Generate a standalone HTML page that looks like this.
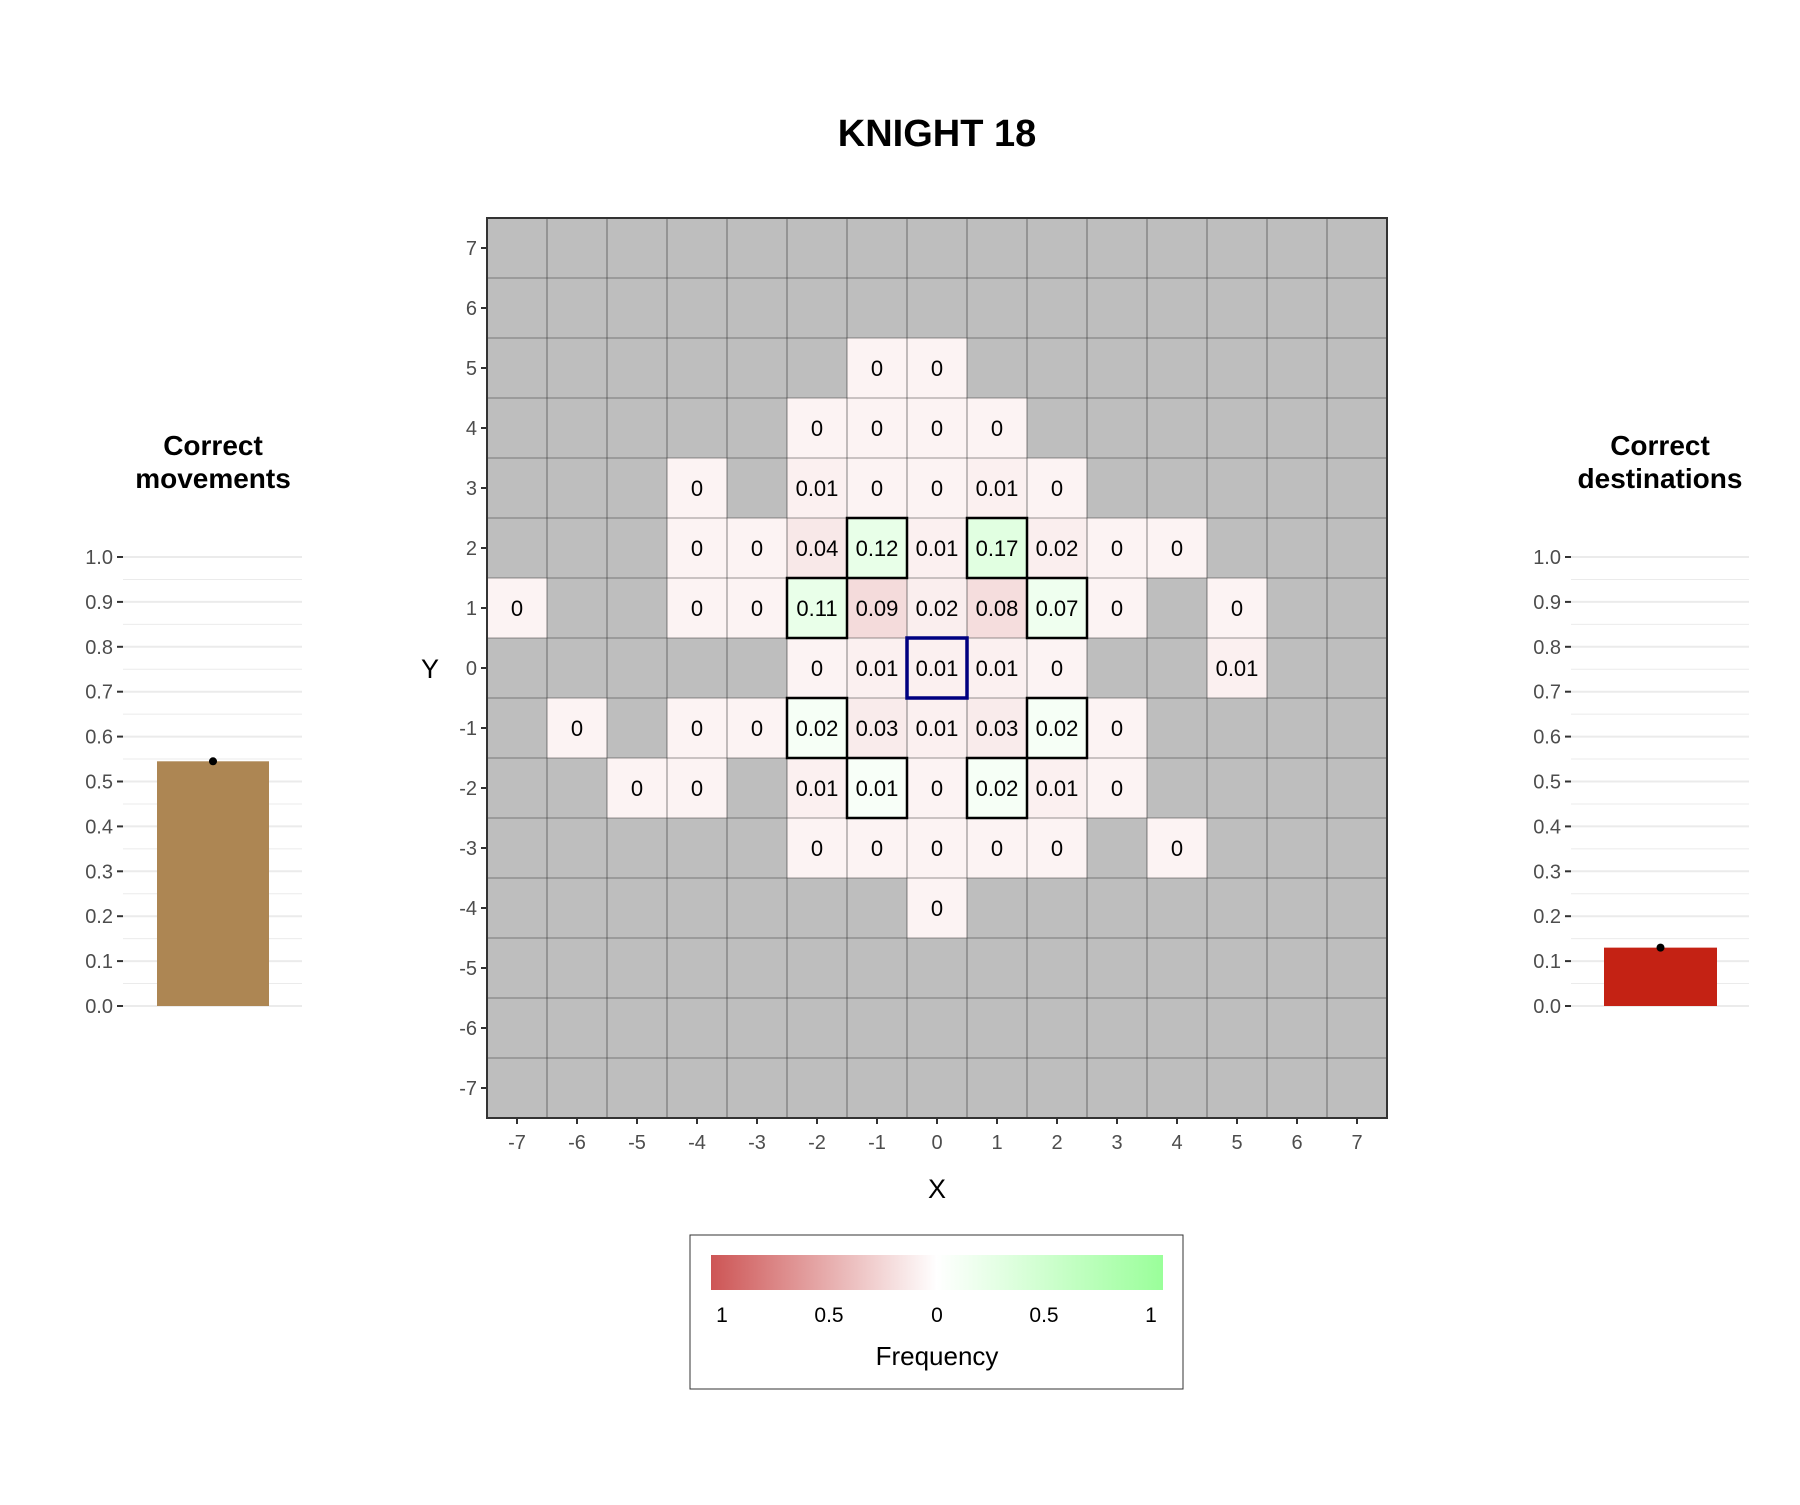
<!DOCTYPE html>
<html><head><meta charset="utf-8"><style>
body{margin:0;background:#fff;}
svg text{font-family:"Liberation Sans",sans-serif;}
</style></head><body>
<svg id="c" width="1800" height="1500" xmlns="http://www.w3.org/2000/svg">
<defs><linearGradient id="lg" x1="0" x2="1" y1="0" y2="0">
<stop offset="0" stop-color="#cd5555"/><stop offset="0.5" stop-color="#ffffff"/><stop offset="1" stop-color="#9aff9a"/></linearGradient></defs>
<text x="937" y="146" text-anchor="middle" font-size="38" font-weight="bold">KNIGHT 18</text>
<g id="heat"></g>
<g id="left"></g>
<g id="right"></g>
<g>
<rect x="690" y="1235" width="493" height="154" fill="#fff" stroke="#333" stroke-width="1"/>
<rect x="711" y="1255" width="452" height="35" fill="url(#lg)"/>
<text x="722" y="1322" font-size="21" text-anchor="middle">1</text>
<text x="829" y="1322" font-size="21" text-anchor="middle">0.5</text>
<text x="937" y="1322" font-size="21" text-anchor="middle">0</text>
<text x="1044" y="1322" font-size="21" text-anchor="middle">0.5</text>
<text x="1151" y="1322" font-size="21" text-anchor="middle">1</text>
<text x="937" y="1365" font-size="26" text-anchor="middle">Frequency</text>
</g>
</svg>
<script>
const NS="http://www.w3.org/2000/svg";
const cellX=[-1,0,-2,-1,0,1,-4,-2,-1,0,1,2,-4,-3,-2,-1,0,1,2,3,4,-7,-4,-3,-2,-1,0,1,2,3,5,-2,-1,0,1,2,5,-6,-4,-3,-2,-1,0,1,2,3,-5,-4,-2,-1,0,1,2,3,-2,-1,0,1,2,4,0];
const cellY=[5,5,4,4,4,4,3,3,3,3,3,3,2,2,2,2,2,2,2,2,2,1,1,1,1,1,1,1,1,1,1,0,0,0,0,0,0,-1,-1,-1,-1,-1,-1,-1,-1,-1,-2,-2,-2,-2,-2,-2,-2,-2,-3,-3,-3,-3,-3,-3,-4];
const cellV=[0,0,0,0,0,0,0,0.01,0,0,0.01,0,0,0,0.04,0.12,0.01,0.17,0.02,0,0,0,0,0,0.11,0.09,0.02,0.08,0.07,0,0,0,0.01,0.01,0.01,0,0.01,0,0,0,0.02,0.03,0.01,0.03,0.02,0,0,0,0.01,0.01,0,0.02,0.01,0,0,0,0,0,0,0,0];
const cellLbl=["0","0","0","0","0","0","0","0.01","0","0","0.01","0","0","0","0.04","0.12","0.01","0.17","0.02","0","0","0","0","0","0.11","0.09","0.02","0.08","0.07","0","0","0","0.01","0.01","0.01","0","0.01","0","0","0","0.02","0.03","0.01","0.03","0.02","0","0","0","0.01","0.01","0","0.02","0.01","0","0","0","0","0","0","0","0"];
const correctX=[-1,1,-2,2,-2,2,-1,1];
const correctY=[2,2,1,1,-1,-1,-2,-2];
const ticks=[-7,-6,-5,-4,-3,-2,-1,0,1,2,3,4,5,6,7];
const barTicks=[0,0.1,0.2,0.3,0.4,0.5,0.6,0.7,0.8,0.9,1.0];
const movementsVal=[0.545];
const destinationsVal=[0.13];

const L=487,T=218,S=60;
const sx=v=>L+(v+7.5)*S, sy=v=>T+(7.5-v)*S;
function mk(tag,attrs,parent){const e=document.createElementNS(NS,tag);for(const k in attrs)e.setAttribute(k,attrs[k]);parent.appendChild(e);return e;}
function mix(a,b,t){t=Math.max(0,Math.min(1,t));const p=[0,2,4].map(i=>parseInt(a.substr(i,2),16)),q=[0,2,4].map(i=>parseInt(b.substr(i,2),16));return "rgb("+p.map((x,i)=>Math.round(x+(q[i]-x)*t)).join(",")+")";}
const H=document.getElementById('heat');
const bg=mk('rect',{x:L,y:T,width:S*15,height:S*15,fill:'#bebebe'},H);


function isCorrect(x,y){for(let i=0;i<correctX.length;i++)if(correctX[i]===x&&correctY[i]===y)return true;return false;}
for(let i=0;i<cellX.length;i++){
  const c=isCorrect(cellX[i],cellY[i]);
  const fill=c?mix('ffffff','9aff9a',0.06+cellV[i]*1.4):mix('ffffff','cd5555',0.07+cellV[i]*1.6);
  const r=mk('rect',{x:sx(cellX[i])-S/2,y:sy(cellY[i])-S/2,width:S,height:S,fill:fill},H);
  
  
}
for(let k=0;k<=15;k++){
  mk('line',{x1:L+k*S,x2:L+k*S,y1:T,y2:T+S*15,stroke:'#333',"stroke-width":0.6},H);
  mk('line',{y1:T+k*S,y2:T+k*S,x1:L,x2:L+S*15,stroke:'#333',"stroke-width":0.6},H);
}
for(let i=0;i<cellX.length;i++){
  const t=mk('text',{x:sx(cellX[i]),y:sy(cellY[i])+8,"text-anchor":"middle","font-size":22},H);
  t.textContent=cellLbl[i];
  
  
}
for(let i=0;i<correctX.length;i++){
  const r=mk('rect',{x:sx(correctX[i])-S/2,y:sy(correctY[i])-S/2,width:S,height:S,fill:'none',stroke:'#000',"stroke-width":2.5},H);
  
  
}
const o=mk('rect',{x:sx(0)-S/2,y:sy(0)-S/2,width:S,height:S,fill:'none',stroke:'#000080',"stroke-width":3.5},H);


mk('rect',{x:L,y:T,width:S*15,height:S*15,fill:'none',stroke:'#333',"stroke-width":2},H);
for(const v of ticks){
  mk('line',{x1:L-6,x2:L,y1:sy(v),y2:sy(v),stroke:'#333',"stroke-width":2},H);
  const t=mk('text',{x:L-10,y:sy(v)+7,"text-anchor":"end","font-size":20,fill:'#4d4d4d'},H);t.textContent=v;
  
  
  mk('line',{y1:T+S*15,y2:T+S*15+6,x1:sx(v),x2:sx(v),stroke:'#333',"stroke-width":2},H);
  const u=mk('text',{x:sx(v),y:T+S*15+31,"text-anchor":"middle","font-size":20,fill:'#4d4d4d'},H);u.textContent=v;
  
  
}
const xt=mk('text',{x:937,y:1198,"text-anchor":"middle","font-size":27},H);xt.textContent='X';


const yt=mk('text',{x:430,y:678,"text-anchor":"middle","font-size":27},H);yt.textContent='Y';



function barChart(g,cx,gx0,gx1,bx0,bx1,val,color,title){
  const y0=1006,y1=557,by=v=>y0-(y0-y1)*v;
  for(let k=0;k<20;k++){
    const v=k*0.05+0.05;
    mk('line',{x1:gx0,x2:gx1,y1:by(v),y2:by(v),stroke:'#ebebeb',"stroke-width":k%2===1?2:1},g);
  }
  mk('line',{x1:gx0,x2:gx1,y1:by(0),y2:by(0),stroke:'#ebebeb',"stroke-width":2},g);
  for(const v of barTicks){
    mk('line',{x1:gx0-6,x2:gx0,y1:by(v),y2:by(v),stroke:'#333',"stroke-width":2},g);
    const t=mk('text',{x:gx0-10,y:by(v)+7,"text-anchor":"end","font-size":20,fill:'#4d4d4d'},g);t.textContent=v.toFixed(1);
    
    
  }
  const b=mk('rect',{x:bx0,y:by(val[0]),width:bx1-bx0,height:by(0)-by(val[0]),fill:color},g);
  
  
  mk('circle',{cx:(bx0+bx1)/2,cy:by(val[0]),r:4,fill:'#000'},g);
  const t1=mk('text',{x:cx,y:455,"text-anchor":"middle","font-size":28,"font-weight":"bold"},g);t1.textContent=title[0];
  const t2=mk('text',{x:cx,y:488,"text-anchor":"middle","font-size":28,"font-weight":"bold"},g);t2.textContent=title[1];
  
  
}
barChart(document.getElementById('left'),213,123,302,157,269,movementsVal,'#ad8653',['Correct','movements']);
barChart(document.getElementById('right'),1660,1571,1749,1604,1717,destinationsVal,'#c42214',['Correct','destinations']);
</script>
</body></html>
